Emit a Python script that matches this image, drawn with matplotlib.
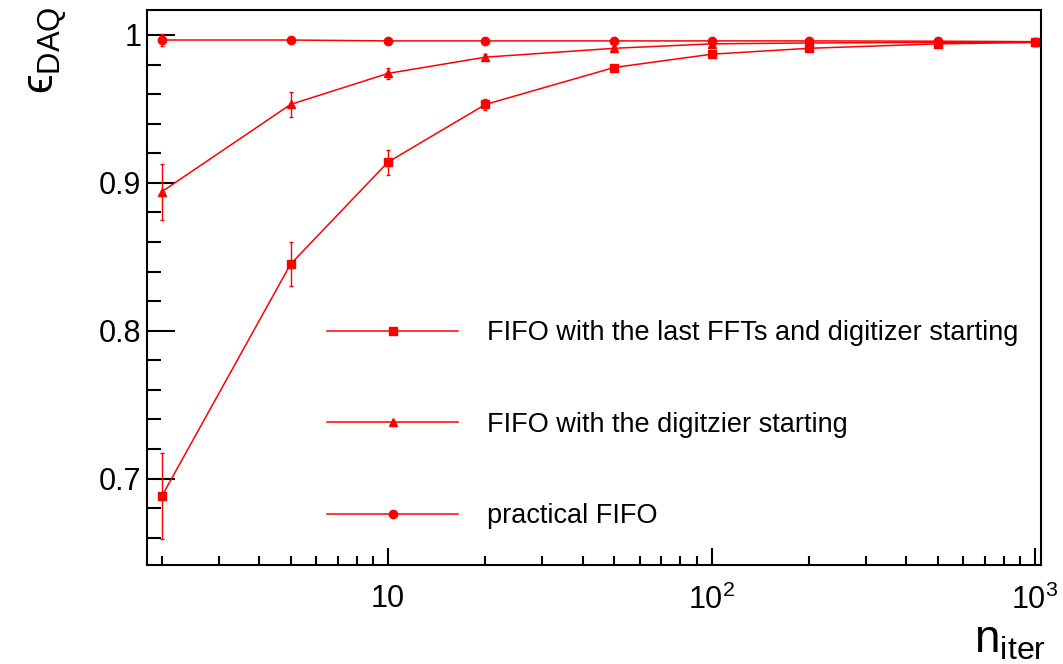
import numpy as np
import matplotlib.pyplot as plt
from matplotlib.ticker import FixedLocator, FuncFormatter, NullFormatter

plt.rcParams['font.family'] = ['Liberation Sans', 'DejaVu Sans']
plt.rcParams['mathtext.fontset'] = 'custom'
plt.rcParams['mathtext.rm'] = 'Liberation Sans'
plt.rcParams['mathtext.it'] = 'Liberation Sans'
plt.rcParams['mathtext.fallback'] = 'stixsans'

# number of iterations
n_iter = [2, 5, 10, 20, 50, 100, 200, 500, 1000]

# FIFO with the last FFTs and digitizer starting
eff_fft = [0.688, 0.845, 0.914, 0.953, 0.978, 0.987, 0.991, 0.994, 0.995]
err_fft = [0.029, 0.015, 0.0085, 0.004, 0.002, 0.0015, 0.001, 0.001, 0.001]

# FIFO with the digitizer starting
eff_dig = [0.894, 0.953, 0.974, 0.985, 0.991, 0.994, 0.9946, 0.995, 0.995]
err_dig = [0.019, 0.0085, 0.004, 0.002, 0.0015, 0.001, 0.001, 0.001, 0.001]

# practical FIFO
eff_prac = [0.9966, 0.9966, 0.996, 0.996, 0.996, 0.996, 0.996, 0.9958, 0.9955]
err_prac = [0.004, 0.001, 0.001, 0.001, 0.001, 0.001, 0.001, 0.001, 0.001]

labels = ['FIFO with the last FFTs and digitizer starting',
          'FIFO with the digitzier starting',
          'practical FIFO']

fig = plt.figure(figsize=(10.63, 6.64), dpi=100)
ax = fig.add_axes([147 / 1063, 1 - 565 / 664, (1041 - 147) / 1063, (565 - 10) / 664])

red = '#ff0000'
kw = dict(color=red, lw=1.1, elinewidth=1.0, capsize=1.5, markersize=6)
c1 = ax.errorbar(n_iter, eff_fft, yerr=err_fft, marker='s', **kw)
c2 = ax.errorbar(n_iter, eff_dig, yerr=err_dig, marker='^', **kw)
c3 = ax.errorbar(n_iter, eff_prac, yerr=err_prac, marker='o', **kw)

ax.set_xscale('log')
ax.set_xlim(1.8, 1043)
ax.set_ylim(0.6415, 1.0169)

def xfmt(v, pos):
    if abs(v - 10) < 1e-6:
        return '10'
    e = int(round(np.log10(v)))
    return r'$10^{%d}$' % e

ax.xaxis.set_major_locator(FixedLocator([10, 100, 1000]))
ax.xaxis.set_major_formatter(FuncFormatter(xfmt))
ax.xaxis.set_minor_locator(FixedLocator([2, 3, 4, 5, 6, 7, 8, 9, 20, 30, 40, 50, 60, 70, 80, 90,
                                         200, 300, 400, 500, 600, 700, 800, 900]))
ax.xaxis.set_minor_formatter(NullFormatter())
ax.yaxis.set_major_locator(FixedLocator([0.7, 0.8, 0.9, 1.0]))
ax.yaxis.set_major_formatter(FuncFormatter(lambda v, p: '1' if abs(v - 1) < 1e-9 else '%.1f' % v))
ax.yaxis.set_minor_locator(FixedLocator(np.arange(0.66, 1.02, 0.02)))

ax.tick_params(axis='both', which='both', direction='in', width=1.5, labelsize=22)
ax.tick_params(axis='y', which='major', length=20, pad=4)
ax.tick_params(axis='y', which='minor', length=10)
ax.tick_params(axis='x', which='major', length=12, pad=14)
ax.tick_params(axis='x', which='minor', length=6.5)
for s in ax.spines.values():
    s.set_linewidth(1.5)

ax.legend(handles=[c1.lines[0], c2.lines[0], c3.lines[0]], labels=labels,
          loc='upper left', bbox_to_anchor=(327 / 1063, 1 - 320 / 664),
          bbox_transform=fig.transFigure, frameon=False, fontsize=19.5,
          handlelength=4.85, handletextpad=1.05, labelspacing=2.42,
          borderpad=0, borderaxespad=0)

fig.text(48 / 1063, 1 - 6 / 664, r'$ϵ_{\mathrm{DAQ}}$', rotation=90,
         ha='center', va='top', fontsize=32)
fig.text(1046 / 1063, 1 - 662 / 664, r'$\mathrm{n}_{\mathrm{iter}}$',
         ha='right', va='bottom', fontsize=33)

fig.savefig('out.png', dpi=100)
